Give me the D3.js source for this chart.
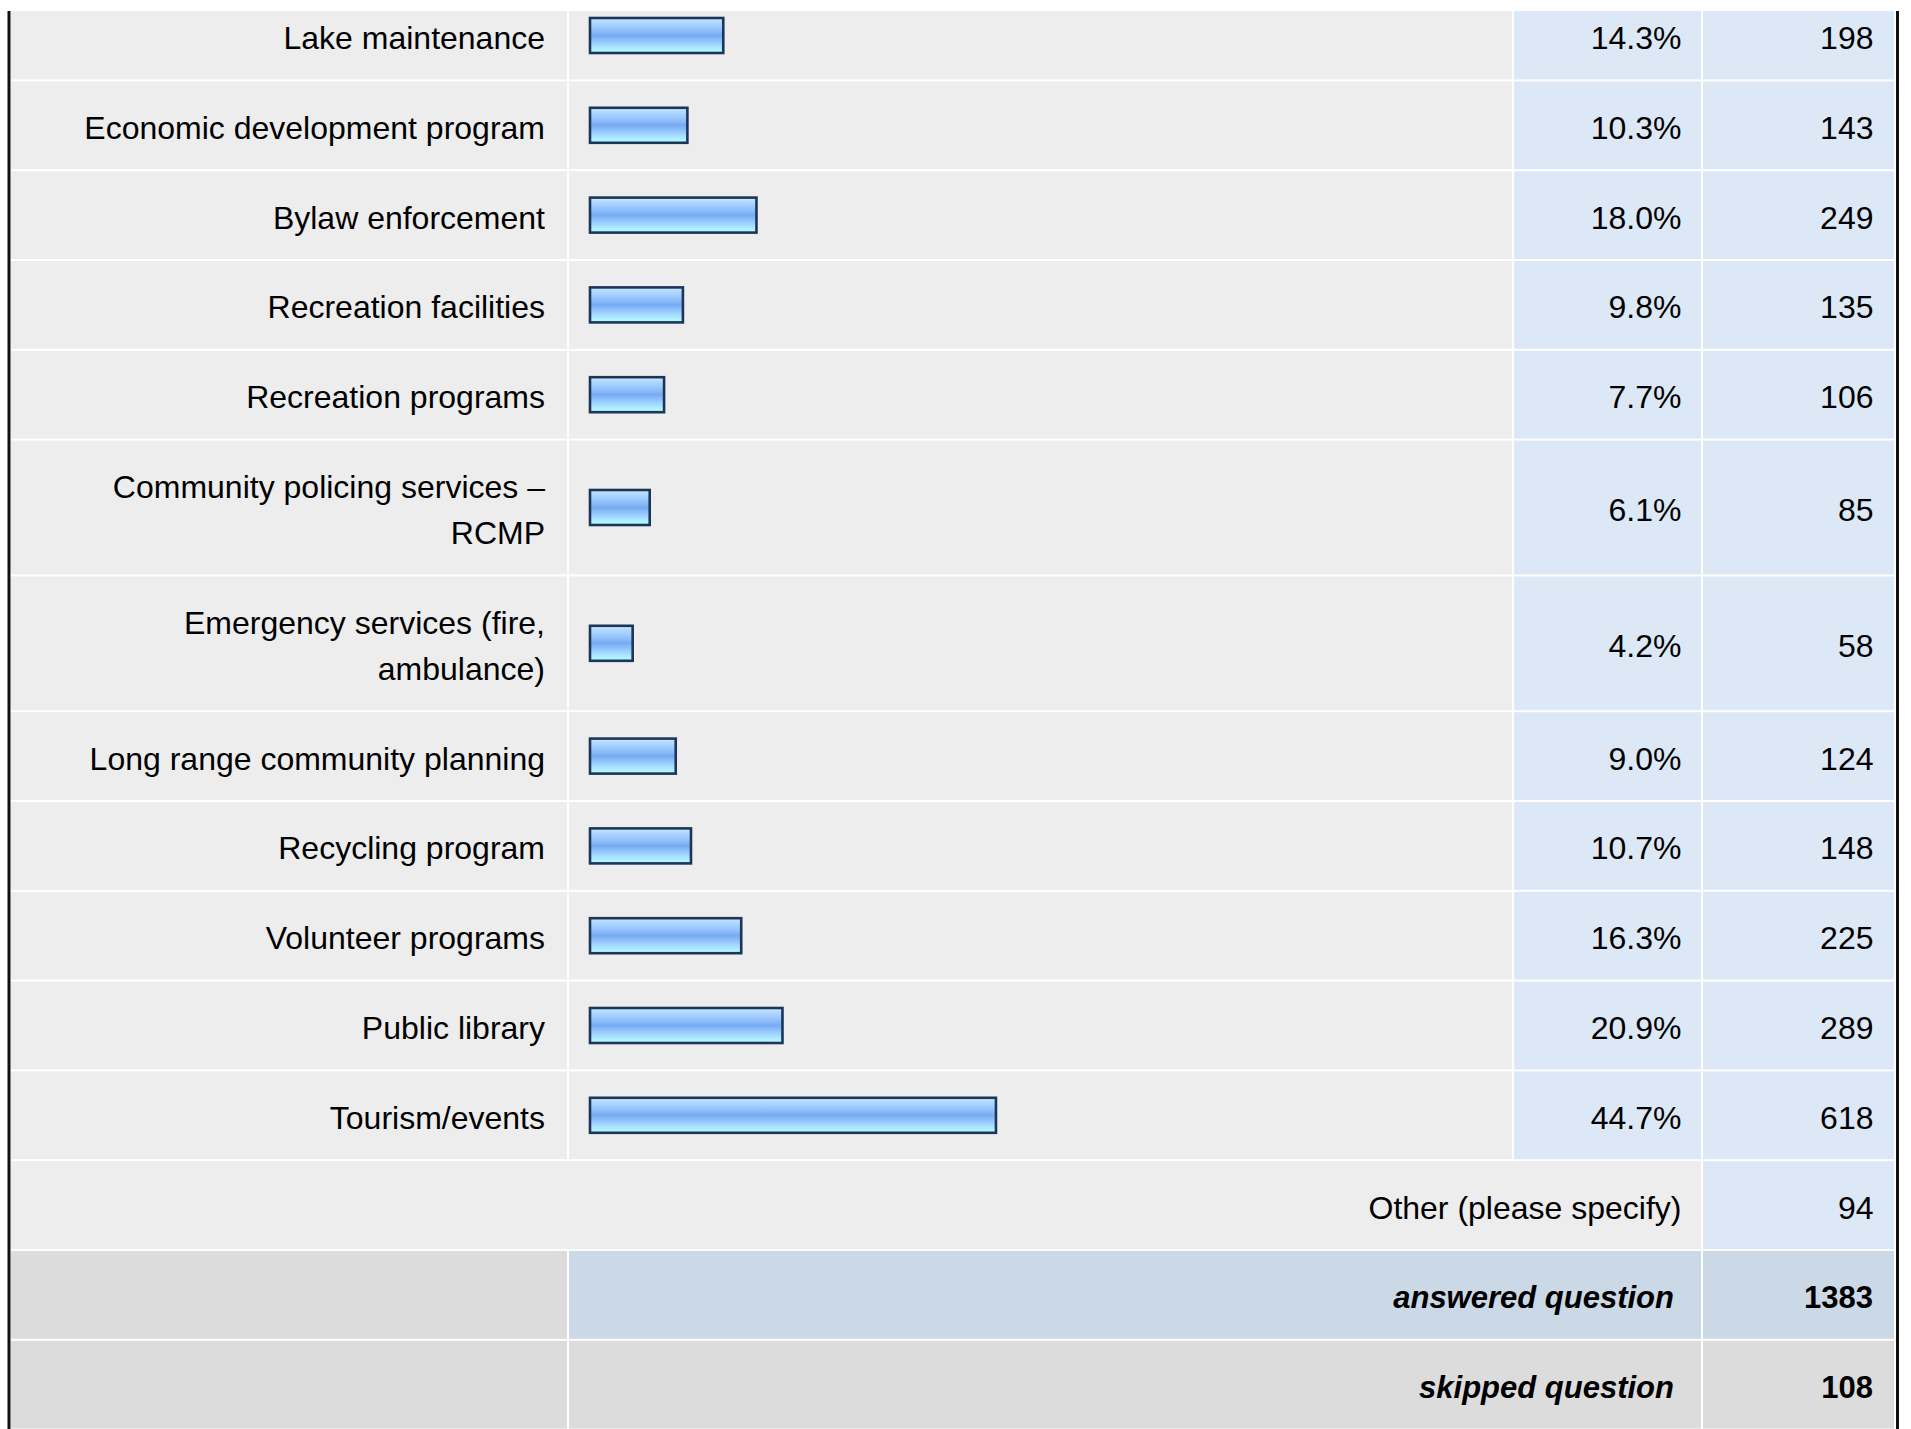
<!DOCTYPE html>
<html>
<head>
<meta charset="utf-8">
<script src="https://cdn.jsdelivr.net/npm/d3@7"></script>
<style>
  html, body { margin: 0; padding: 0; background: #fff; }
  svg { display: block; }
  text { font-family: "Liberation Sans", Arial, Helvetica, sans-serif; fill: #000; }
</style>
</head>
<body>
<svg id="chart" width="1911" height="1429"></svg>
<script>
// ---------- data ----------
const categories = [
  "Lake maintenance",
  "Economic development program",
  "Bylaw enforcement",
  "Recreation facilities",
  "Recreation programs",
  "Community policing services –\nRCMP",
  "Emergency services (fire,\nambulance)",
  "Long range community planning",
  "Recycling program",
  "Volunteer programs",
  "Public library",
  "Tourism/events"
];
const percents = [14.3, 10.3, 18.0, 9.8, 7.7, 6.1, 4.2, 9.0, 10.7, 16.3, 20.9, 44.7];
const counts   = [198, 143, 249, 135, 106, 85, 58, 124, 148, 225, 289, 618];
const otherLabel = "Other (please specify)";
const otherCount = 94;
const summaryLabels = ["answered question", "skipped question"];
const summaryValues = [1383, 108];

// ---------- layout ----------
const W = 1911, H = 1429;
const topVisible = 11;
const firstRowTop = -9.4;
const singleH = 89.8, lineStep = 46;
const gap = 2;
const col = {
  labelL: 11, labelR: 567,
  barL: 569, barR: 1512,
  pctL: 1514, pctR: 1701,
  cntL: 1703, cntR: 1894
};
const colors = {
  rowBg: "#ededed",
  blue: "#dde8f6",
  ansBlue: "#cbd8e6",
  gray: "#dcdcdc",
  border: "#111"
};
const fontSize = 32;
const DY = "0.42em";

const svg = d3.select("#chart");
const defs = svg.append("defs");
defs.append("clipPath").attr("id", "vis")
  .append("rect").attr("x", 0).attr("y", topVisible).attr("width", W).attr("height", H - topVisible);

const grad = defs.append("linearGradient").attr("id", "barGrad")
  .attr("x1", 0).attr("y1", 0).attr("x2", 0).attr("y2", 1);
[[0, "#d0ebff"], [0.1, "#b3dcff"], [0.25, "#9fcbff"], [0.4, "#88baf8"], [0.5, "#76aaf1"],
 [0.6, "#88bcf8"], [0.74, "#a0d2ff"], [0.86, "#aceaff"], [1, "#b8ffff"]]
  .forEach(([o, c]) => grad.append("stop").attr("offset", o).attr("stop-color", c));

const g = svg.append("g").attr("clip-path", "url(#vis)");

// rows
const rows = categories.map((c, i) => {
  const lines = c.split("\n");
  return { lines, pct: percents[i], cnt: counts[i], h: singleH + (lines.length - 1) * lineStep };
});
let yCursor = firstRowTop;
rows.forEach(r => { r.y0 = yCursor; r.y1 = yCursor + r.h; r.cy = (r.y0 + r.y1) / 2; yCursor = r.y1; });

// bars start at a fixed left edge with a small minimum stub, then scale by percent
const barStart = 590;
const x = d3.scaleLinear().domain([0, 100]).range([595, 595 + 897]);

const rowG = g.selectAll("g.row").data(rows).join("g").attr("class", "row");

function cell(sel, x0, x1, fill) {
  sel.append("rect")
    .attr("x", x0).attr("width", x1 - x0)
    .attr("y", d => d.y0 + gap / 2).attr("height", d => d.h - gap)
    .attr("fill", fill);
}
cell(rowG, col.labelL, col.labelR, colors.rowBg);
cell(rowG, col.barL, col.barR, colors.rowBg);
cell(rowG, col.pctL, col.pctR, colors.blue);
cell(rowG, col.cntL, col.cntR, colors.blue);

// labels
rowG.each(function(d) {
  const sel = d3.select(this);
  const n = d.lines.length;
  d.lines.forEach((line, k) => {
    const off = (k - (n - 1) / 2) * lineStep;
    sel.append("text")
      .attr("x", col.labelR - 22)
      .attr("y", d.cy + off)
      .attr("dy", DY)
      .attr("text-anchor", "end")
      .attr("font-size", fontSize)
      .text(line);
  });
});

// bars
const barH = 35;
rowG.append("rect")
  .attr("x", barStart)
  .attr("y", d => d.cy - barH / 2)
  .attr("width", d => x(d.pct) - barStart)
  .attr("height", barH)
  .attr("fill", "url(#barGrad)")
  .attr("stroke", "#1c3558")
  .attr("stroke-width", 2.6);

rowG.append("text")
  .attr("x", col.pctR - 19.5).attr("y", d => d.cy).attr("dy", DY)
  .attr("text-anchor", "end").attr("font-size", fontSize)
  .text(d => d.pct.toFixed(1) + "%");

rowG.append("text")
  .attr("x", col.cntR - 20.5).attr("y", d => d.cy).attr("dy", DY)
  .attr("text-anchor", "end").attr("font-size", fontSize)
  .text(d => d.cnt);

// other row
const other = { y0: yCursor, h: singleH };
other.y1 = other.y0 + other.h; other.cy = (other.y0 + other.y1) / 2;
yCursor = other.y1;
const oG = g.append("g").datum(other);
cell(oG, col.labelL, col.pctR, colors.rowBg);
cell(oG, col.cntL, col.cntR, colors.blue);
oG.append("text").attr("x", col.pctR - 19.5).attr("y", other.cy).attr("dy", DY)
  .attr("text-anchor", "end").attr("font-size", fontSize).text(otherLabel);
oG.append("text").attr("x", col.cntR - 20.5).attr("y", other.cy).attr("dy", DY)
  .attr("text-anchor", "end").attr("font-size", fontSize).text(otherCount);

// summary rows
const summary = summaryLabels.map((lab, i) => {
  const r = { lab, val: summaryValues[i], y0: yCursor, h: singleH, i };
  r.y1 = r.y0 + r.h; r.cy = (r.y0 + r.y1) / 2; yCursor = r.y1;
  return r;
});
const sG = g.selectAll("g.sum").data(summary).join("g").attr("class", "sum");
cell(sG, col.labelL, col.labelR, colors.gray);
sG.append("rect")
  .attr("x", col.barL).attr("width", col.pctR - col.barL)
  .attr("y", d => d.y0 + gap / 2).attr("height", d => d.h - gap)
  .attr("fill", d => d.i === 0 ? colors.ansBlue : colors.gray);
sG.append("rect")
  .attr("x", col.cntL).attr("width", col.cntR - col.cntL)
  .attr("y", d => d.y0 + gap / 2).attr("height", d => d.h - gap)
  .attr("fill", d => d.i === 0 ? colors.ansBlue : colors.gray);
sG.append("text").attr("x", col.pctR - 27).attr("y", d => d.cy).attr("dy", DY)
  .attr("text-anchor", "end").attr("font-size", 31)
  .attr("font-weight", "bold").attr("font-style", "italic")
  .text(d => d.lab);
sG.append("text").attr("x", col.cntR - 21).attr("y", d => d.cy).attr("dy", DY)
  .attr("text-anchor", "end").attr("font-size", 31).attr("font-weight", "bold")
  .text(d => d.val);

// outer borders
g.append("rect").attr("x", 7.5).attr("y", 0).attr("width", 3).attr("height", H).attr("fill", colors.border);
g.append("rect").attr("x", 1896).attr("y", 0).attr("width", 3).attr("height", H).attr("fill", colors.border);
</script>
</body>
</html>
